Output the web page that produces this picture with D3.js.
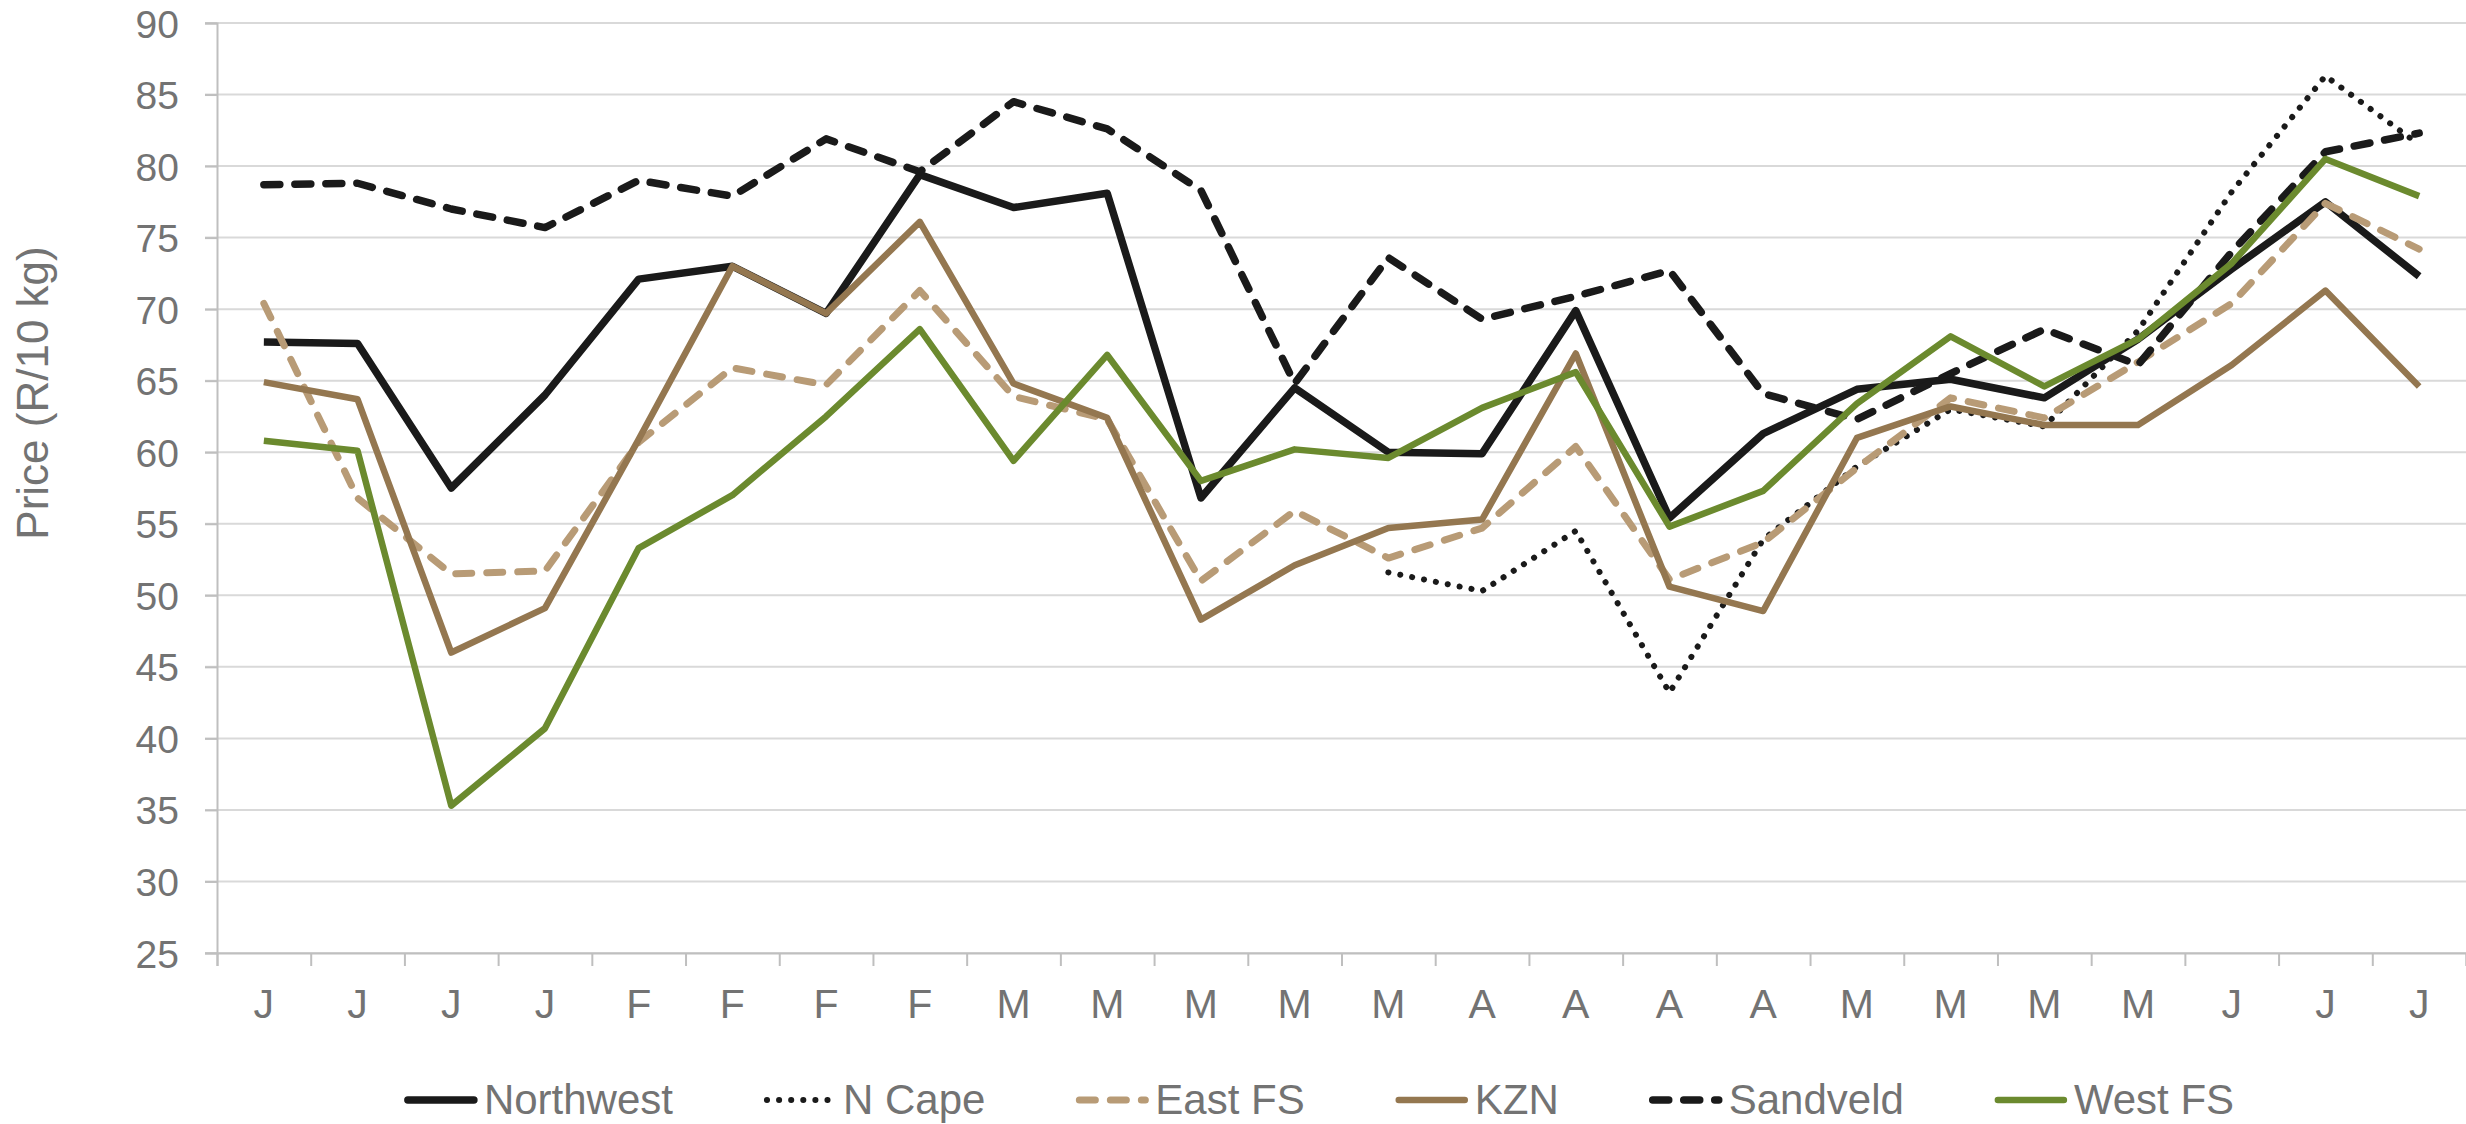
<!DOCTYPE html>
<html>
<head>
<meta charset="utf-8">
<script src="https://cdn.jsdelivr.net/npm/d3@7"></script>
<style>
  body { margin: 0; background: #fff; }
  svg { display: block; font-family: "Liberation Sans", Arial, sans-serif; }
</style>
</head>
<body>
<div id="chart"></div>
<script>
// category labels (one per week)
const months = ["J","J","J","J","F","F","F","F","M","M","M","M","M","A","A","A","A","M","M","M","M","J","J","J"]

const seriesNames = ["Northwest", "N Cape", "East FS", "KZN", "Sandveld", "West FS"]

const northwest = [67.7, 67.6, 57.5, 64.0, 72.1, 73.0, 69.7, 79.4, 77.1, 78.1, 56.8, 64.5, 60.0, 59.9, 69.9, 55.4, 61.3, 64.4, 65.1, 63.8, 67.9, 72.8, 77.5, 72.3]
const nCape = [null, null, null, null, null, null, null, null, null, null, null, null, 51.6, 50.3, 54.5, 43.2, 53.9, 59.0, 63.0, 61.8, 68.5, 78.2, 86.3, 81.5]
const eastFS = [70.4, 56.8, 51.5, 51.7, 60.7, 65.9, 64.7, 71.3, 63.9, 62.3, 51.0, 55.9, 52.6, 54.7, 60.4, 51.1, 53.7, 58.9, 63.8, 62.4, 66.3, 70.4, 77.4, 74.2]
const kzn = [64.9, 63.7, 46.0, 49.1, 60.9, 73.0, 69.7, 76.1, 64.8, 62.4, 48.3, 52.1, 54.7, 55.3, 66.9, 50.6, 48.9, 61.0, 63.2, 61.9, 61.9, 66.1, 71.3, 64.6]
const sandveld = [78.7, 78.8, 77.0, 75.7, 79.0, 77.9, 81.9, 79.6, 84.5, 82.6, 78.3, 64.8, 73.6, 69.3, 70.9, 72.7, 64.1, 62.3, 65.5, 68.6, 66.1, 74.0, 81.0, 82.3]
const westFS = [60.8, 60.1, 35.3, 40.7, 53.3, 57.0, 62.5, 68.6, 59.4, 66.8, 58.0, 60.2, 59.6, 63.1, 65.6, 54.8, 57.3, 63.4, 68.1, 64.6, 67.9, 73.2, 80.5, 77.9]

const yTicks = [25, 30, 35, 40, 45, 50, 55, 60, 65, 70, 75, 80, 85, 90]

let seriesStyle = [
    { color: "#1a1a1a", width: 7.5, dash: null },
    { color: "#1a1a1a", width: 6, dash: "0.1,12" },
    { color: "#b89b76", width: 7, dash: "16,15" },
    { color: "#947750", width: 6.5, dash: null },
    { color: "#1a1a1a", width: 7.5, dash: "16,15" },
    { color: "#6b8a2e", width: 6.5, dash: null }
]

let allData = [northwest, nCape, eastFS, kzn, sandveld, westFS]

let W = 2466, H = 1124
let margin = { top: 23, right: 0, bottom: 171, left: 217 }
let width = W - margin.left - margin.right
let height = 953 - margin.top

let svg = d3.select("#chart")
    .append("svg")
    .attr("width", W)
    .attr("height", H)

let g = svg.append("g")
    .attr("transform", "translate(" + margin.left + "," + margin.top + ")")

let xScale = d3.scaleBand()
    .domain(d3.range(months.length))
    .range([0, width])

let xEdges = d3.scaleLinear()
    .domain([0, months.length])
    .range([0, width])

let yScale = d3.scaleLinear()
    .domain([25, 90])
    .range([height, 0])

// gridlines
g.append("g")
    .selectAll("line")
    .data(yTicks)
    .enter()
    .append("line")
    .attr("x1", -12)
    .attr("x2", width)
    .attr("y1", d => yScale(d))
    .attr("y2", d => yScale(d))
    .style("stroke", "#d9d9d9")
    .style("stroke-width", 2)

// y axis
let yAxis = g.append("g")
    .call(d3.axisLeft(yScale).tickValues(yTicks).tickSize(12).tickPadding(26))
yAxis.select(".domain").style("stroke", "#bfbfbf").style("stroke-width", 2)
yAxis.selectAll(".tick line").style("stroke", "#bfbfbf").style("stroke-width", 2)
yAxis.selectAll("text")
    .style("font-size", "39px")
    .style("fill", "#737373")
    .attr("dy", "0.36em")

// x axis: ticks between categories
let xAxis = g.append("g")
    .attr("transform", "translate(0," + height + ")")
    .call(d3.axisBottom(xEdges).ticks(months.length).tickSize(13).tickFormat(""))
xAxis.select(".domain").style("stroke", "#bfbfbf").style("stroke-width", 2)
xAxis.selectAll(".tick line").style("stroke", "#bfbfbf").style("stroke-width", 2)

// x labels
g.append("g")
    .selectAll("text")
    .data(months)
    .enter()
    .append("text")
    .attr("x", (d, i) => xScale(i) + xScale.bandwidth() / 2)
    .attr("y", height + 65)
    .attr("text-anchor", "middle")
    .style("font-size", "41px")
    .style("fill", "#737373")
    .text(d => d)

// y axis title
svg.append("text")
    .attr("transform", "translate(48,393) rotate(-90)")
    .attr("text-anchor", "middle")
    .style("font-size", "44px")
    .style("fill", "#737373")
    .text("Price (R/10 kg)")

// lines
let line = d3.line()
    .defined(d => d != null)
    .x((d, i) => xScale(i) + xScale.bandwidth() / 2)
    .y(d => yScale(d))

allData.forEach(function (values, k) {
    let st = seriesStyle[k]
    g.append("path")
        .datum(values)
        .attr("d", line)
        .style("fill", "none")
        .style("stroke", st.color)
        .style("stroke-width", st.width)
        .style("stroke-linejoin", "round")
        .style("stroke-linecap", st.dash ? "round" : "butt")
        .style("stroke-dasharray", st.dash)
})

// legend
let legend = svg.append("g")
let legX = 0
seriesNames.forEach(function (name, k) {
    let st = seriesStyle[k]
    let item = legend.append("g").attr("transform", "translate(" + legX + ",0)")
    item.append("line")
        .attr("x1", 4).attr("x2", 70)
        .attr("y1", 0).attr("y2", 0)
        .style("stroke", st.color)
        .style("stroke-width", st.width)
        .style("stroke-linecap", "round")
        .style("stroke-dasharray", st.dash)
    let t = item.append("text")
        .attr("x", 80)
        .attr("y", 14)
        .style("font-size", "42px")
        .style("fill", "#737373")
        .text(name)
    legX += 80 + t.node().getComputedTextLength() + 90
})
legX -= 90
legend.attr("transform", "translate(" + (1319 - legX / 2) + ",1100)")
</script>
</body>
</html>
